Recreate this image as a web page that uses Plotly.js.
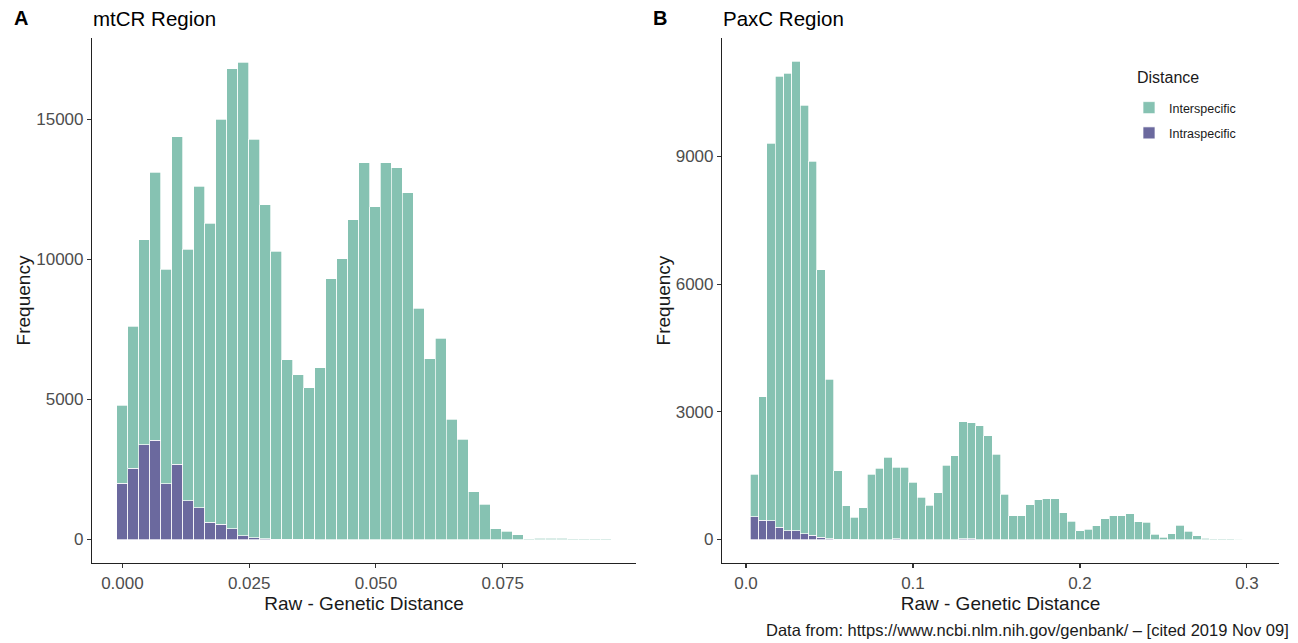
<!DOCTYPE html>
<html>
<head>
<meta charset="utf-8">
<script src="https://cdn.plot.ly/plotly-3.0.1.min.js"></script>
<style>html,body{margin:0;padding:0;background:#fff;}#chart{width:1298px;height:643px;}</style>
</head>
<body>
<div id="chart"></div>
<script>
// ---- Panel A: mtCR Region (45 bins) ----
const mtcrBins = [0.000000,0.002166,0.004332,0.006498,0.008664,0.010830,0.012996,0.015162,0.017328,0.019494,
  0.021660,0.023826,0.025992,0.028158,0.030324,0.032490,0.034656,0.036822,0.038988,0.041154,
  0.043320,0.045486,0.047652,0.049818,0.051984,0.054150,0.056316,0.058482,0.060648,0.062814,
  0.064980,0.067146,0.069312,0.071478,0.073644,0.075810,0.077976,0.080142,0.082308,0.084474,
  0.086640,0.088806,0.090972,0.093138,0.095304];
const mtcrIntra = [2010,2540,3380,3540,2000,2680,1380,1140,610,540,
  380,130,70,20,10,5,3,2,0,0,
  0,0,0,0,0,0,0,0,0,0,
  0,0,0,0,0,0,0,0,0,0,
  0,0,0,0,0];
const mtcrInter = [2790,5080,7320,9580,7650,11710,8990,11480,10680,14470,
  16430,16910,14230,11930,10290,6415,5877,5418,6130,9320,
  10020,11420,13450,11890,13450,13270,12390,8260,6450,7180,
  4300,3580,1710,1260,380,300,170,25,40,50,
  40,30,25,20,20];
const mtcrTickVals = [0, 0.025, 0.05, 0.075];
const mtcrTickText = ["0.000", "0.025", "0.050", "0.075"];
const mtcrYTicks = [0, 5000, 10000, 15000];

// ---- Panel B: PaxC Region (59 bins) ----
const paxcBins = [0.005,0.010,0.015,0.020,0.025,0.030,0.035,0.040,0.045,0.050,
  0.055,0.060,0.065,0.070,0.075,0.080,0.085,0.090,0.095,0.100,
  0.105,0.110,0.115,0.120,0.125,0.130,0.135,0.140,0.145,0.150,
  0.155,0.160,0.165,0.170,0.175,0.180,0.185,0.190,0.195,0.200,
  0.205,0.210,0.215,0.220,0.225,0.230,0.235,0.240,0.245,0.250,
  0.255,0.260,0.265,0.270,0.275,0.280,0.285,0.290,0.295];
const paxcIntra = [530,450,440,290,200,200,130,100,50,20,
  10,10,10,0,0,0,0,15,0,0,
  0,0,0,0,0,15,15,0,0,0,
  0,0,0,0,0,0,0,0,0,0,
  0,0,0,0,0,0,0,0,0,0,
  0,0,0,0,0,0,0,0,0];
const paxcInter = [1000,2910,8870,10600,10760,11040,10070,8790,6290,3750,
  1600,780,510,750,1530,1680,1930,1685,1700,1350,
  990,800,1100,1750,1970,2755,2725,2670,2440,2000,
  1060,560,560,820,930,960,960,630,430,210,
  240,320,490,560,560,600,420,410,120,50,
  130,340,190,90,30,20,15,15,12];
const paxcTickVals = [0, 0.1, 0.2, 0.3];
const paxcTickText = ["0.0", "0.1", "0.2", "0.3"];
const paxcYTicks = [0, 3000, 6000, 9000];

const seriesNames = ["Interspecific", "Intraspecific"];
const legendTitle = "Distance";
const caption = "Data from: https://www.ncbi.nlm.nih.gov/genbank/ \u2013 [cited 2019 Nov 09]";

const interColor = "#86C2B2";
const intraColor = "#6B699E";
const FONT = "Liberation Sans, Arial, Helvetica, sans-serif";
const W = 1298, H = 643;
const px = v => v / W;
const py = v => 1 - v / H;

const barLine = {color: "#ffffff", width: 0.7};
const traces = [
  {type: "bar", x: mtcrBins, y: mtcrIntra, name: seriesNames[1], xaxis: "x", yaxis: "y",
   marker: {color: intraColor, line: barLine}, legendgroup: "intra", legendrank: 2, showlegend: true},
  {type: "bar", x: mtcrBins, y: mtcrInter, name: seriesNames[0], xaxis: "x", yaxis: "y",
   marker: {color: interColor, line: barLine}, legendgroup: "inter", legendrank: 1, showlegend: true},
  {type: "bar", x: paxcBins, y: paxcIntra, name: seriesNames[1], xaxis: "x2", yaxis: "y2",
   marker: {color: intraColor, line: barLine}, legendgroup: "intra", legendrank: 2, showlegend: false},
  {type: "bar", x: paxcBins, y: paxcInter, name: seriesNames[0], xaxis: "x2", yaxis: "y2",
   marker: {color: interColor, line: barLine}, legendgroup: "inter", legendrank: 1, showlegend: false}
];

const yDom = [py(563), py(38)];
const axisCommon = {
  showline: true, linecolor: "#222222", linewidth: 1.1,
  ticks: "outside", ticklen: 4, tickwidth: 1.1, tickcolor: "#333333",
  showgrid: false, zeroline: false,
  tickfont: {family: FONT, size: 17, color: "#4d4d4d"},
  fixedrange: true
};
const titleFont = {family: FONT, size: 19, color: "#1a1a1a"};

const layout = {
  width: W, height: H,
  margin: {l: 0, r: 0, t: 0, b: 0},
  paper_bgcolor: "#ffffff", plot_bgcolor: "#ffffff",
  barmode: "stack", bargap: 0,
  font: {family: FONT, color: "#1a1a1a"},
  showlegend: true,
  legend: {
    x: px(1129), y: py(93), xanchor: "left", yanchor: "top",
    traceorder: "grouped", tracegroupgap: 6,
    font: {family: FONT, size: 12.5, color: "#1a1a1a"},
    bgcolor: "rgba(255,255,255,0)"
  },
  xaxis: Object.assign({}, axisCommon, {
    domain: [px(92), px(636)], range: [-0.006, 0.1013], anchor: "y",
    tickmode: "array", tickvals: mtcrTickVals, ticktext: mtcrTickText,
    title: {text: "Raw - Genetic Distance", font: titleFont, standoff: 0}
  }),
  yaxis: Object.assign({}, axisCommon, {
    domain: yDom, range: [-839, 17911], anchor: "x",
    tickmode: "array", tickvals: mtcrYTicks, ticktext: mtcrYTicks.map(String),
    title: {text: "Frequency", font: titleFont}
  }),
  xaxis2: Object.assign({}, axisCommon, {
    domain: [px(722), px(1279)], range: [-0.01437, 0.3192], anchor: "y2",
    tickmode: "array", tickvals: paxcTickVals, ticktext: paxcTickText,
    title: {text: "Raw - Genetic Distance", font: titleFont, standoff: 0}
  }),
  yaxis2: Object.assign({}, axisCommon, {
    domain: yDom, range: [-552, 11783], anchor: "x2",
    tickmode: "array", tickvals: paxcYTicks, ticktext: paxcYTicks.map(String),
    title: {text: "Frequency", font: titleFont}
  }),
  annotations: [
    {text: "<b>A</b>", xref: "paper", yref: "paper", x: px(12), y: py(18), xanchor: "left", yanchor: "middle",
     showarrow: false, font: {family: FONT, size: 20, color: "#000000"}},
    {text: "mtCR Region", xref: "paper", yref: "paper", x: px(91), y: py(18), xanchor: "left", yanchor: "middle",
     showarrow: false, font: {family: FONT, size: 20.5, color: "#000000"}},
    {text: "<b>B</b>", xref: "paper", yref: "paper", x: px(651), y: py(18), xanchor: "left", yanchor: "middle",
     showarrow: false, font: {family: FONT, size: 20, color: "#000000"}},
    {text: "PaxC Region", xref: "paper", yref: "paper", x: px(721), y: py(18), xanchor: "left", yanchor: "middle",
     showarrow: false, font: {family: FONT, size: 20.5, color: "#000000"}},
    {text: legendTitle, xref: "paper", yref: "paper", x: px(1135), y: py(78), xanchor: "left", yanchor: "middle",
     showarrow: false, font: {family: FONT, size: 16, color: "#1a1a1a"}},
    {text: caption, xref: "paper", yref: "paper", x: px(1291), y: py(630), xanchor: "right", yanchor: "middle",
     showarrow: false, font: {family: FONT, size: 16.5, color: "#1a1a1a"}}
  ]
};

Plotly.newPlot("chart", traces, layout, {staticPlot: true, displayModeBar: false});
</script>
</body>
</html>
